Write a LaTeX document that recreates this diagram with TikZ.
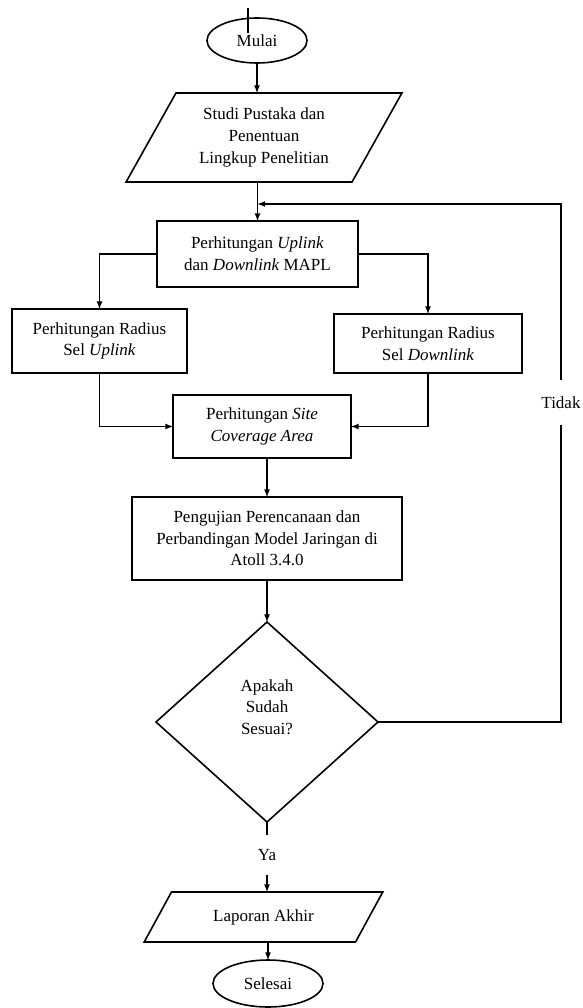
\documentclass[tikz,border=0pt]{standalone}
\usepackage{fontspec}
\setmainfont{Liberation Serif}
\usepackage{tikz}
\usetikzlibrary{arrows}
\usetikzlibrary{shapes.geometric}

\begin{document}
\begin{tikzpicture}[x=1pt, y=-1pt, line width=1.6pt,
  every node/.style={font=\fontsize{17}{21.7}\selectfont, inner sep=0pt, outer sep=0pt, align=center},
  terminal/.style={draw, ellipse},
  process/.style={draw, rectangle},
  io/.style={draw, trapezium, trapezium stretches=true},
  decision/.style={draw, diamond},
  flow/.style={->, >=latex}]

\useasboundingbox (0,0) rectangle (582,1008);

% Start and literature study
\node[terminal, minimum width=100pt, minimum height=45pt] (mulai) at (257,40.5) {Mulai};
\node[io, trapezium left angle=58, trapezium right angle=122, minimum width=276pt, minimum height=89pt] (studi) at (264,137.5)
  {Studi Pustaka dan\\Penentuan\\Lingkup Penelitian};
\draw (248,8) -- (248,33);

% MAPL and the two cell radii
\node[process, minimum width=201pt, minimum height=66pt] (mapl) at (257.5,254)
  {Perhitungan \textit{Uplink}\\dan \textit{Downlink} MAPL};
\node[process, minimum width=175pt, minimum height=64pt] (radup) at (99.5,341)
  {Perhitungan Radius\\Sel \textit{Uplink}};
\node[process, minimum width=188pt, minimum height=59pt] (raddown) at (428,343.5)
  {Perhitungan Radius\\Sel \textit{Downlink}};
\node[process, minimum width=178pt, minimum height=63pt] (cov) at (262,426.5)
  {Perhitungan \textit{Site}\\\textit{Coverage Area}};
\node[process, minimum width=270pt, minimum height=83pt] (uji) at (267,538.5)
  {Pengujian Perencanaan dan\\Perbandingan Model Jaringan di\\Atoll 3.4.0};

% Decision
\node[decision, minimum width=222pt, minimum height=200pt,
  label={[yshift=15pt, align=center]center:{Apakah\\Sudah\\Sesuai?}}] (cek) at (267,722) {};

% End
\node[io, trapezium left angle=46, trapezium right angle=134, minimum width=239pt, minimum height=50pt] (lapor) at (263.5,917)
  {Laporan Akhir};
\node[terminal, minimum width=110pt, minimum height=47pt] (selesai) at (268,983.5) {Selesai};

\coordinate (balik) at (561,204);

% Connectors
\draw[flow] (mulai.south) -- (mulai.south |- studi.north);
\draw[flow] (mapl.north |- studi.south) -- (mapl.north);
\draw[flow] (mapl.west) -| (radup.north);
\draw[flow] (mapl.east) -| (raddown.north);
\draw[flow] (radup.south) |- (cov.west);
\draw[flow] (raddown.south) |- (cov.east);
\draw[flow] (cov.south -| uji.north) -- (uji.north);
\draw[flow] (uji.south) -- (cek.north);
\draw[flow] (cek.east) -| (balik) -- (mapl.north |- balik);
\draw[flow] (cek.south) -- (cek.south |- lapor.north);
\draw[flow] (selesai.north |- lapor.south) -- (selesai.north);

\node[fill=white, minimum height=45pt, inner xsep=2pt] (tidak) at (561,402.5) {Tidak};
\node[fill=white, minimum height=40pt, inner xsep=2pt] (ya) at (267,855) {Ya};

\end{tikzpicture}
\end{document}
